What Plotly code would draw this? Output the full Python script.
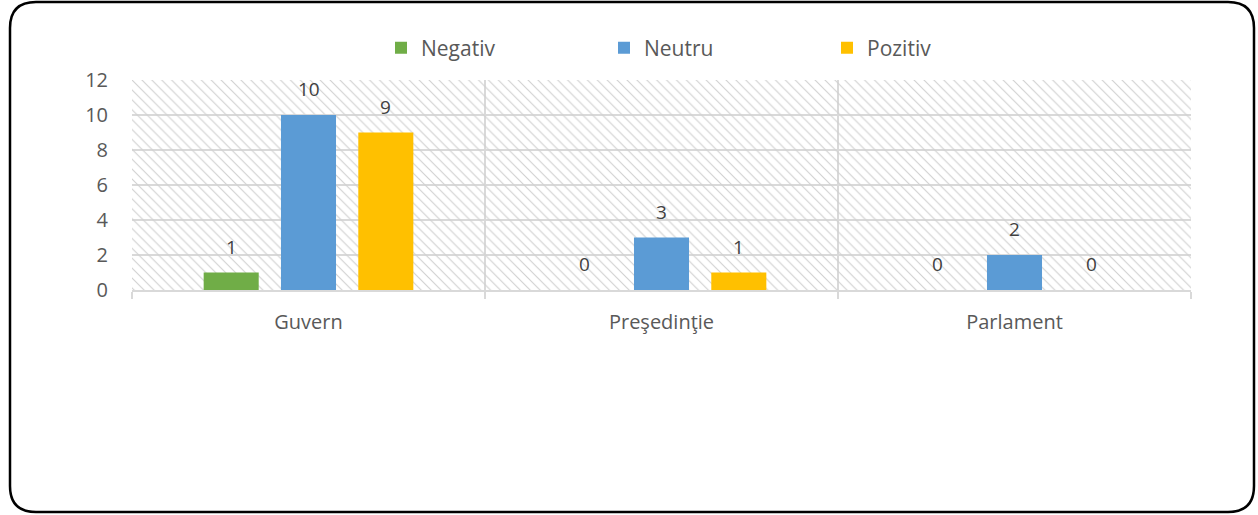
import plotly.graph_objects as go

categories = ["Guvern", "Preşedinţie", "Parlament"]
negativ = [1, 0, 0]
neutru = [10, 3, 2]
pozitiv = [9, 1, 0]
series_names = ["Negativ", "Neutru", "Pozitiv"]
series_colors = ["#70AD47", "#5B9BD5", "#FFC000"]
y_ticks = [0, 2, 4, 6, 8, 10, 12]

W, H = 1258, 515
L, R, T, B = 132, 67, 80, 225
pw, ph = W - L - R, H - T - B
FONT = "Open Sans"
BARGAP = 0.343

def px(x, y):
    return ((x - L) / pw, (H - B - y) / ph)

fig = go.Figure()

# hatched background across the plot area (on the base x axis, drawn below data)
fig.add_trace(go.Bar(
    x=[0.5], y=[max(y_ticks)], width=[1], xaxis="x", yaxis="y",
    marker=dict(color="#d0d0d0", line=dict(width=0),
                pattern=dict(shape="\\", size=7, solidity=0.16, fillmode="replace", bgcolor="rgba(0,0,0,0)")),
    showlegend=False, hoverinfo="skip",
))

all_series = [negativ, neutru, pozitiv]
n = len(all_series)
slot = (1 - BARGAP) / n
for si, (name, vals, col) in enumerate(zip(series_names, all_series, series_colors)):
    fig.add_trace(go.Bar(
        name=name, x=categories, y=vals, xaxis="x2", yaxis="y",
        marker=dict(color=col, line=dict(width=0)),
    ))
    # data labels placed at each bar's slot in category units
    for ci, v in enumerate(vals):
        fig.add_annotation(
            x=ci + (si - (n - 1) / 2) * slot, y=v, xref="x2", yref="y",
            text=str(v), showarrow=False, yanchor="bottom", yshift=11,
            font=dict(size=19, color="#404040", family=FONT),
        )

# rounded frame
x0, y0, x1, y1, r = 10, 2, 1254, 512, 26
def P(x, y):
    a, b = px(x, y)
    return f"{a:.5f},{b:.5f}"
path = (f"M {P(x0 + r, y0)} L {P(x1 - r, y0)} Q {P(x1, y0)} {P(x1, y0 + r)} "
        f"L {P(x1, y1 - r)} Q {P(x1, y1)} {P(x1 - r, y1)} "
        f"L {P(x0 + r, y1)} Q {P(x0, y1)} {P(x0, y1 - r)} "
        f"L {P(x0, y0 + r)} Q {P(x0, y0)} {P(x0 + r, y0)} Z")
fig.add_shape(type="path", path=path, xref="paper", yref="paper",
              line=dict(color="black", width=2.5), layer="above")

fig.update_layout(
    width=W, height=H,
    margin=dict(l=L, r=R, t=T, b=B, autoexpand=False),
    paper_bgcolor="white", plot_bgcolor="white",
    barmode="group", bargap=BARGAP, bargroupgap=0.288,
    font=dict(family=FONT, color="#595959", size=19),
    legend=dict(orientation="h", x=(381 - L) / pw, xanchor="left",
                y=1 - 48 / H, yanchor="middle", yref="container",
                entrywidth=178, entrywidthmode="pixels", itemwidth=30,
                font=dict(size=21, color="#595959", family=FONT), traceorder="normal"),
    xaxis=dict(range=[0, 1], visible=False, fixedrange=True),
    xaxis2=dict(type="category", overlaying="x", anchor="y", side="bottom",
                tickson="boundaries", ticks="outside", ticklen=7,
                tickcolor="#d9d9d9", tickwidth=2, showgrid=True, gridcolor="#d9d9d9", gridwidth=2,
                showline=True, linecolor="#d9d9d9", linewidth=2, ticklabelstandoff=13,
                tickfont=dict(size=20, color="#595959", family=FONT), range=[-0.5, 2.5]),
    yaxis=dict(range=[0, 12], tickvals=y_ticks, showgrid=True, gridcolor="#d9d9d9", gridwidth=2,
               zeroline=False, ticks="", tickfont=dict(size=20, color="#595959", family=FONT),
               ticklabelstandoff=23),
    showlegend=True,
)

fig.write_html("out.html", config={"displayModeBar": False},
               post_script="document.body.style.margin='0px';")
